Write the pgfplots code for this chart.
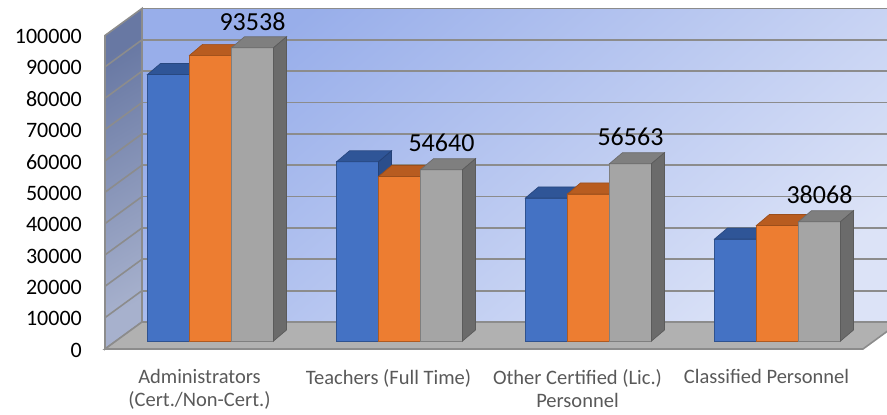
\documentclass[border=0pt]{standalone}
\usepackage{pgfplots}
\pgfplotsset{compat=1.18}
\usepackage{pgfplotstable}
\usepackage{fontspec}
\setmainfont{Carlito}
\definecolor{bFront}{HTML}{4472C4}
\definecolor{bTop}{HTML}{2F5597}
\definecolor{bSide}{HTML}{2B4E8C}
\definecolor{bEdge}{HTML}{2F528F}
\definecolor{oFront}{HTML}{ED7D31}
\definecolor{oTop}{HTML}{B85C20}
\definecolor{oSide}{HTML}{A9531B}
\definecolor{oEdge}{HTML}{AE5A21}
\definecolor{gFront}{HTML}{A5A5A5}
\definecolor{gTop}{HTML}{7F7F7F}
\definecolor{gSide}{HTML}{6B6B6B}
\definecolor{gEdge}{HTML}{7F7F7F}
\definecolor{wallTop}{HTML}{98AEEA}
\definecolor{wallBot}{HTML}{DCE3F7}
\definecolor{sideTop}{HTML}{6878A3}
\definecolor{sideBot}{HTML}{A7B1CD}
\definecolor{floorC}{HTML}{B1B1B1}
\definecolor{edgeC}{HTML}{8C8C8C}
\definecolor{catC}{HTML}{595959}

\pgfplotstableread{
cat blue orange gray
0 85000 91100 93538
1 57150 52450 54640
2 45630 46910 56563
3 32520 36870 38068
}\chartdata

% top and side faces of the 3D bars, built from the table values
\newcommand\barfaces[4]{%
  \pgfplotsforeachungrouped \i in {0,1,2,3}{%
    \pgfplotstablegetelem{\i}{#1}\of\chartdata
    \let\barval\pgfplotsretval
    \pgfmathsetmacro\xl{\i+(#2)}%
    \pgfmathsetmacro\xr{\xl+0.2222}%
    \pgfmathsetmacro\xld{\xl+0.0688}%
    \pgfmathsetmacro\xrd{\xr+0.0688}%
    \edef\vd{\the\numexpr\barval+3509\relax}%
    \edef\temp{\noexpand\addplot[mark=none, fill=#3, draw=#3!85!black, line width=0.7pt] coordinates {(\xl,\barval) (\xr,\barval) (\xrd,\vd) (\xld,\vd)} -- cycle;
      \noexpand\addplot[mark=none, fill=#4, draw=#4!85!black, line width=0.7pt] coordinates {(\xr,0) (\xrd,3509) (\xrd,\vd) (\xr,\barval)} -- cycle;}%
    \temp
  }%
}

\begin{document}
\begin{tikzpicture}
\begin{axis}[
  at={(116pt,74pt)}, anchor=south west,
  scale only axis, width=756pt, height=313.5pt,
  xmin=-0.5, xmax=3.5, ymin=0, ymax=100000,
  clip=false,
  axis line style={draw=none},
  tick style={draw=none},
  major tick length=0pt,
  scaled y ticks=false,
  ytick={0,10000,20000,30000,40000,50000,60000,70000,80000,90000,100000},
  yticklabel={\pgfmathprintnumber[fixed,precision=0,1000 sep={}]{\tick}},
  yticklabel style={font=\fontsize{22}{26}\selectfont, anchor=east, inner sep=0pt, xshift=-34pt, yshift=-9pt},
  xtick={0,1,2,3},
  xticklabels={{Administrators\\(Cert./Non-Cert.)},{Teachers (Full Time)},{Other Certified (Lic.)\\Personnel},{Classified Personnel}},
  xticklabel style={font=\fontsize{20.5}{23}\selectfont, text=catC, align=center, anchor=north, inner sep=0pt, xshift=-11pt, yshift=-28pt},
  /pgf/number format/assume math mode=true,
]
% back wall
\addplot[mark=none, draw=edgeC, line width=1.6pt, top color=wallTop, bottom color=wallBot, shading angle=40]
  coordinates {(-0.3624,6061) (3.80,6061) (3.80,106061) (-0.3624,106061)} -- cycle;
% left wall
\addplot[mark=none, draw=edgeC, line width=1.6pt, top color=sideTop, bottom color=sideBot, shading angle=30]
  coordinates {(-0.5582,-2552) (-0.3624,6061) (-0.3624,106061) (-0.5582,97448)} -- cycle;
% floor
\addplot[mark=none, fill=floorC, draw=edgeC, line width=1.6pt]
  coordinates {(-0.5582,-2552) (3.4524,-2552) (3.6481,6061) (-0.3624,6061)} -- cycle;
% gridlines on the back wall
\addplot[mark=none, draw=edgeC, line width=1.8pt] coordinates {(-0.3624,16061) (3.80,16061)};
\addplot[mark=none, draw=edgeC, line width=1.8pt] coordinates {(-0.3624,26061) (3.80,26061)};
\addplot[mark=none, draw=edgeC, line width=1.8pt] coordinates {(-0.3624,36061) (3.80,36061)};
\addplot[mark=none, draw=edgeC, line width=1.8pt] coordinates {(-0.3624,46061) (3.80,46061)};
\addplot[mark=none, draw=edgeC, line width=1.8pt] coordinates {(-0.3624,56061) (3.80,56061)};
\addplot[mark=none, draw=edgeC, line width=1.8pt] coordinates {(-0.3624,66061) (3.80,66061)};
\addplot[mark=none, draw=edgeC, line width=1.8pt] coordinates {(-0.3624,76061) (3.80,76061)};
\addplot[mark=none, draw=edgeC, line width=1.8pt] coordinates {(-0.3624,86061) (3.80,86061)};
\addplot[mark=none, draw=edgeC, line width=1.8pt] coordinates {(-0.3624,96061) (3.80,96061)};
% gridlines on the left wall
\addplot[mark=none, draw=edgeC, line width=1.6pt] coordinates {(-0.5582,7448) (-0.3624,16061)};
\addplot[mark=none, draw=edgeC, line width=1.6pt] coordinates {(-0.5582,17448) (-0.3624,26061)};
\addplot[mark=none, draw=edgeC, line width=1.6pt] coordinates {(-0.5582,27448) (-0.3624,36061)};
\addplot[mark=none, draw=edgeC, line width=1.6pt] coordinates {(-0.5582,37448) (-0.3624,46061)};
\addplot[mark=none, draw=edgeC, line width=1.6pt] coordinates {(-0.5582,47448) (-0.3624,56061)};
\addplot[mark=none, draw=edgeC, line width=1.6pt] coordinates {(-0.5582,57448) (-0.3624,66061)};
\addplot[mark=none, draw=edgeC, line width=1.6pt] coordinates {(-0.5582,67448) (-0.3624,76061)};
\addplot[mark=none, draw=edgeC, line width=1.6pt] coordinates {(-0.5582,77448) (-0.3624,86061)};
\addplot[mark=none, draw=edgeC, line width=1.6pt] coordinates {(-0.5582,87448) (-0.3624,96061)};

% bars
\addplot[ybar, bar width=0.2222, bar shift=-0.2222, fill=bFront, draw=bEdge, line width=0.8pt]
  table[x=cat, y=blue]{\chartdata};
\barfaces{blue}{-0.3333}{bTop}{bSide}
\addplot[ybar, bar width=0.2222, bar shift=0, fill=oFront, draw=oEdge, line width=0.8pt]
  table[x=cat, y=orange]{\chartdata};
\barfaces{orange}{-0.1111}{oTop}{oSide}
\addplot[ybar, bar width=0.2222, bar shift=0.2222, fill=gFront, draw=gEdge, line width=0.8pt,
  nodes near coords={\pgfmathprintnumber[fixed,precision=0,1000 sep={}]{\pgfplotspointmeta}},
  every node near coord/.append style={font=\fontsize{26}{30}\selectfont, text=black, anchor=center, xshift=42pt, yshift=26.5pt}]
  table[x=cat, y=gray]{\chartdata};
\barfaces{gray}{0.1111}{gTop}{gSide}
\end{axis}
\pgfresetboundingbox
\path[use as bounding box] (0pt,0pt) rectangle (887pt,415pt);
\end{tikzpicture}
\end{document}
